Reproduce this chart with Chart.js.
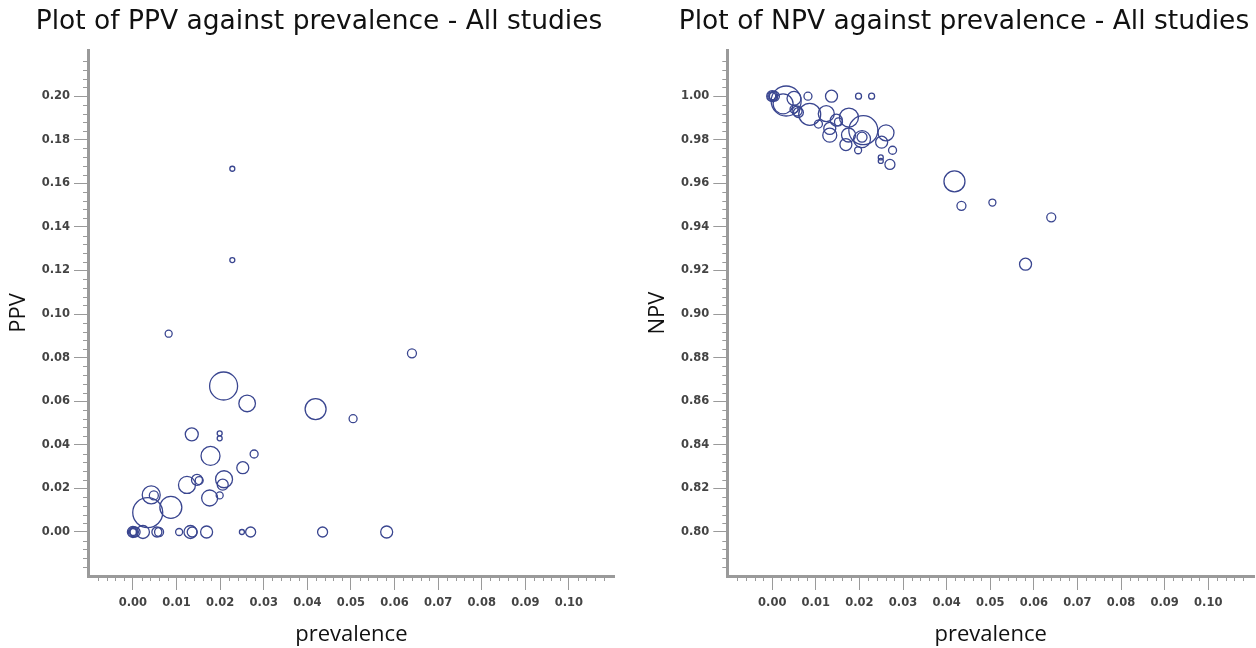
<!DOCTYPE html>
<html>
<head>
<meta charset="utf-8">
<script src="https://cdn.jsdelivr.net/npm/chart.js@4/dist/chart.umd.min.js"></script>
<style>
  body { margin: 0; background: #fff; overflow: hidden; width: 1256px; height: 648px; position: relative; }
  canvas { position: absolute; top: 0; }
</style>
</head>
<body>
<canvas id="ppvChart" width="638" height="648" style="left:0px"></canvas>
<canvas id="npvChart" width="651" height="648" style="left:640px"></canvas>
<script>
// tick labels
const prevTicks = [0, 0.01, 0.02, 0.03, 0.04, 0.05, 0.06, 0.07, 0.08, 0.09, 0.10];
const ppvTicks = [0, 0.02, 0.04, 0.06, 0.08, 0.10, 0.12, 0.14, 0.16, 0.18, 0.20];
const npvTicks = [0.80, 0.82, 0.84, 0.86, 0.88, 0.90, 0.92, 0.94, 0.96, 0.98, 1.00];

// PPV panel: prevalence, PPV, bubble size (study weight)
const ppvPrev = [0, 0, 0, 0.0005, 0.0023, 0.0055, 0.0060, 0.0106, 0.0132, 0.0136, 0.0169, 0.0250, 0.0270, 0.0435, 0.0582,
  0.0034, 0.0087, 0.0042, 0.0048, 0.0124, 0.0147, 0.0152, 0.0176, 0.0199, 0.0206, 0.0209, 0.0252, 0.0278, 0.0178,
  0.0135, 0.0199, 0.0199, 0.0505, 0.0419, 0.0262, 0.0208, 0.0640, 0.0082, 0.0228, 0.0228];
const ppvVals = [0, 0, 0, 0, 0, 0, 0, 0, 0, 0, 0, 0, 0, 0, 0,
  0.0089, 0.0113, 0.0170, 0.0168, 0.0216, 0.0239, 0.0236, 0.0156, 0.0168, 0.0217, 0.0242, 0.0295, 0.0358, 0.0349,
  0.0448, 0.0453, 0.0430, 0.0520, 0.0564, 0.0590, 0.0670, 0.0820, 0.0910, 0.1248, 0.1667];
const ppvSizes = [5.5, 4.5, 3.5, 5, 6.5, 5, 4.5, 3.5, 6.5, 5, 6, 2.5, 5, 5, 6,
  15, 11, 9, 4.5, 8.5, 5.5, 4, 8, 3.5, 5.5, 8.5, 6, 4, 9.5,
  6.5, 2.5, 2.5, 4, 10.5, 8.3, 14, 4.5, 3.5, 2.5, 2.5];

// NPV panel
const npvPrev = [0, 0, 0, 0.0005, 0.0032, 0.0025, 0.0050, 0.0082, 0.0136, 0.0198, 0.0228, 0.0060, 0.0057, 0.0050,
  0.0086, 0.0106, 0.0124, 0.0132, 0.0132, 0.0147, 0.0152, 0.0176, 0.0175, 0.0169, 0.0209, 0.0206, 0.0206, 0.0197,
  0.0261, 0.0251, 0.0276, 0.0249, 0.0249, 0.0270, 0.0418, 0.0434, 0.0505, 0.0640, 0.0581];
const npvVals = [1, 1, 1, 1, 0.9978, 0.9965, 0.9990, 1, 1, 1, 1, 0.9925, 0.9932, 0.9940,
  0.9917, 0.9872, 0.9920, 0.9852, 0.9821, 0.9890, 0.9882, 0.9902, 0.9822, 0.9778, 0.9844, 0.9803, 0.9812, 0.9752,
  0.9832, 0.9789, 0.9752, 0.9719, 0.9703, 0.9687, 0.9609, 0.9497, 0.9512, 0.9444, 0.9229];
const npvSizes = [5.5, 4.5, 3.5, 5, 15, 10, 7, 4, 6, 3, 3, 5, 5, 4,
  11, 4, 8, 6, 7, 6, 4, 9.5, 7, 6, 14.5, 8.5, 5, 3.5,
  8, 6, 4, 2.5, 2.5, 5, 10.5, 4.5, 3.5, 4.5, 6];

const markColor = '#3a4690';
const axisGrey = '#9a9a9a';

// short minor ticks outside the axes, placed with the chart's own scales
const minorTicks = {
  id: 'minorTicks',
  afterDraw(chart) {
    const ctx = chart.ctx;
    const xs = chart.scales.x, ys = chart.scales.y;
    ctx.save();
    ctx.strokeStyle = axisGrey;
    ctx.lineWidth = 1;
    ctx.beginPath();
    const xStep = 0.002;
    for (let i = Math.ceil(xs.min / xStep); i <= Math.floor(xs.max / xStep); i++) {
      if (i % 5 === 0) continue;
      const px = Math.round(xs.getPixelForValue(i * xStep)) + 0.5;
      ctx.moveTo(px, xs.top + 1);
      ctx.lineTo(px, xs.top + 5);
    }
    const yStep = 0.004;
    for (let i = Math.ceil(ys.min / yStep - 1e-6); i <= Math.floor(ys.max / yStep + 1e-6); i++) {
      if (Math.abs(i % 5) === 0) continue;
      const py = Math.round(ys.getPixelForValue(i * yStep)) + 0.5;
      ctx.moveTo(ys.right - 1, py);
      ctx.lineTo(ys.right - 5, py);
    }
    ctx.stroke();
    ctx.restore();
  }
};

function makeChart(id, title, yTitle, xs, ys, sizes, yTickVals, yMin, yMax, opts) {
  const pts = xs.map((v, i) => ({ x: v, y: ys[i], r: sizes[i] }));
  return new Chart(document.getElementById(id), {
    type: 'bubble',
    data: {
      datasets: [{
        data: pts,
        backgroundColor: 'rgba(0,0,0,0)',
        borderColor: markColor,
        borderWidth: 1.3,
        hoverRadius: 0
      }]
    },
    options: {
      responsive: false,
      animation: false,
      events: [],
      layout: { padding: { left: opts.padLeft, right: opts.padRight, top: 0, bottom: 0 } },
      plugins: {
        legend: { display: false },
        tooltip: { enabled: false },
        title: {
          display: true,
          text: title,
          color: '#111',
          font: { family: "'DejaVu Sans'", size: 26.5, weight: 'normal', lineHeight: 1.2 },
          padding: { top: 6.1, bottom: 12.1 }
        }
      },
      scales: {
        x: {
          type: 'linear',
          min: -0.0103,
          max: 0.1105,
          afterFit: s => { s.height = 72; },
          afterBuildTicks: s => { s.ticks = prevTicks.map(v => ({ value: v })); },
          border: { display: true, color: axisGrey, width: 3 },
          grid: { drawOnChartArea: false, drawTicks: true, tickLength: 14, color: axisGrey, lineWidth: 1 },
          ticks: {
            autoSkip: false, maxRotation: 0, padding: 6, color: '#444',
            font: { family: "'DejaVu Sans'", size: 11.5, weight: 'bold' },
            callback: v => v.toFixed(2)
          },
          title: {
            display: true, text: 'prevalence', color: '#111',
            font: { family: "'Open Sans'", size: 22, lineHeight: 1.2 },
            padding: { top: 0, bottom: 0 }
          }
        },
        y: {
          type: 'linear',
          min: yMin,
          max: yMax,
          afterFit: s => { s.width = opts.yWidth; },
          afterBuildTicks: s => { s.ticks = yTickVals.map(v => ({ value: v })); },
          border: { display: true, color: axisGrey, width: 3 },
          grid: { drawOnChartArea: false, drawTicks: true, tickLength: 14, color: axisGrey, lineWidth: 1 },
          ticks: {
            autoSkip: false, padding: 4, color: '#444',
            font: { family: "'DejaVu Sans'", size: 11.5, weight: 'bold' },
            callback: v => v.toFixed(2)
          },
          title: {
            display: true, text: yTitle, color: '#111',
            font: { family: "'Open Sans'", size: 22, lineHeight: 1.2 },
            padding: { top: opts.yTitlePad, bottom: 0 }
          }
        }
      }
    },
    plugins: [minorTicks]
  });
}

makeChart('ppvChart', 'Plot of PPV against prevalence - All studies', 'PPV',
  ppvPrev, ppvVals, ppvSizes, ppvTicks, -0.0202, 0.2212,
  { padLeft: 23.3, padRight: 23.3, yWidth: 64.7, yTitlePad: -17.5 });

makeChart('npvChart', 'Plot of NPV against prevalence - All studies', 'NPV',
  npvPrev, npvVals, npvSizes, npvTicks, 0.7798, 1.0212,
  { padLeft: 34, padRight: 37, yWidth: 53.3, yTitlePad: -29.2 });
</script>
</body>
</html>
